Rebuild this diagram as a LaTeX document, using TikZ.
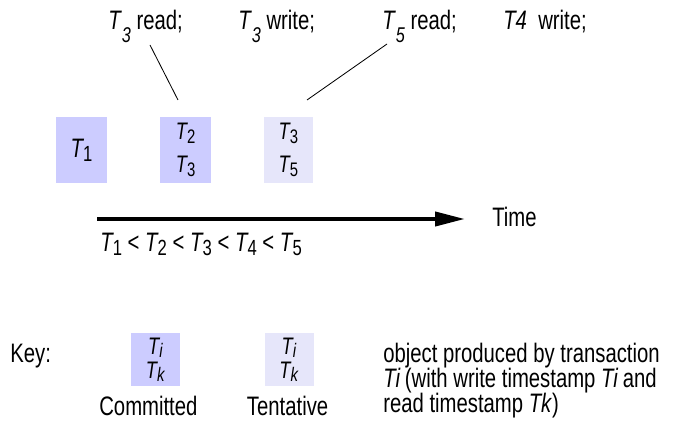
\documentclass[tikz,border=0pt]{standalone}
\usepackage{fontspec}
\setmainfont{Liberation Sans}[FakeStretch=0.76]
\usetikzlibrary{arrows.meta}

\definecolor{commitblue}{RGB}{204,204,255}
\definecolor{tentblue}{RGB}{230,230,250}

% transaction with a subscript
\newcommand{\trn}[1]{\textit{T}\kern-0.04em\raisebox{-0.28ex}{\scalebox{0.82}{#1}}}
% transaction with a low italic index (top row)
\newcommand{\trlow}[1]{\textit{T}\raisebox{-0.45em}{\scalebox{0.8}{\textit{#1}}}}

\begin{document}
\begin{tikzpicture}[
  txt/.style={font=\fontsize{19}{21}\selectfont, inner sep=0pt},
  objbox/.style={minimum width=1.275cm, minimum height=1.65cm, inner sep=0pt, align=center,
    font=\fontsize{17}{23.4}\selectfont},
  keybox/.style={minimum width=1.225cm, minimum height=1.325cm, inner sep=0pt, align=center,
    font=\fontsize{17}{17}\selectfont},
  timearrow/.style={line width=0.1cm, -{Triangle[length=0.75cm, width=0.35cm]}}
]
\useasboundingbox (0,0) rectangle (16.875,10.85);

% operations
\node[txt, anchor=base west] (rd3) at (2.7,10.1) {\trlow{3} read;};
\node[txt, anchor=base west] (wr3) at (5.95,10.1) {\trlow{3} write;};
\node[txt, anchor=base west] (rd5) at (9.55,10.1) {\trlow{5} read;};
\node[txt, anchor=base west] (wr4) at (12.575,10.1) {\textit{T4}\ \ write;};

% object versions
\node[objbox, fill=commitblue, font=\fontsize{19}{21}\selectfont] (v1) at (2.04,7.1) {\trn{1}};
\node[objbox, fill=commitblue] (v2) at (4.64,7.1) {\trn{2}\\\trn{3}};
\node[objbox, fill=tentblue, minimum width=1.225cm] (v3) at (7.21,7.1) {\trn{3}\\\trn{5}};

\coordinate (rd3end) at (3.75,9.725);
\coordinate (v2top) at (4.45,8.35);
\coordinate (rd5end) at (9.675,9.75);
\coordinate (v3top) at (7.675,8.35);
\draw[line width=0.6pt] (rd3end) -- (v2top);
\draw[line width=0.6pt] (rd5end) -- (v3top);

% time axis
\coordinate (t0) at (2.425,5.375);
\node[txt, anchor=west] (time) at (12.3,5.425) {Time};
\draw[timearrow, shorten >=0.675cm] (t0) -- (t0 -| time.west);
\node[txt, anchor=west] (order) at (2.5,4.75) {\trn{1} < \trn{2} < \trn{3} < \trn{4} < \trn{5}};

% key
\node[txt, anchor=west] (key) at (0.25,1.95) {Key:};
\node[keybox, fill=commitblue] (kc) at (3.89,1.86) {\trn{\textit{i}}\\\trn{\textit{k}}};
\node[keybox, fill=tentblue] (kt) at (7.225,1.86) {\trn{\textit{i}}\\\trn{\textit{k}}};
\node[txt] (kclbl) at (3.71,0.7) {Committed};
\node[txt] (ktlbl) at (7.19,0.7) {Tentative};
\node[txt, anchor=west, align=left, font=\fontsize{19}{17.8}\selectfont] (expl) at (9.575,1.325)
  {object produced by transaction\\\textit{Ti}\,(with write timestamp \textit{Ti}\,and\\read timestamp \textit{Tk})};
\end{tikzpicture}
\end{document}
